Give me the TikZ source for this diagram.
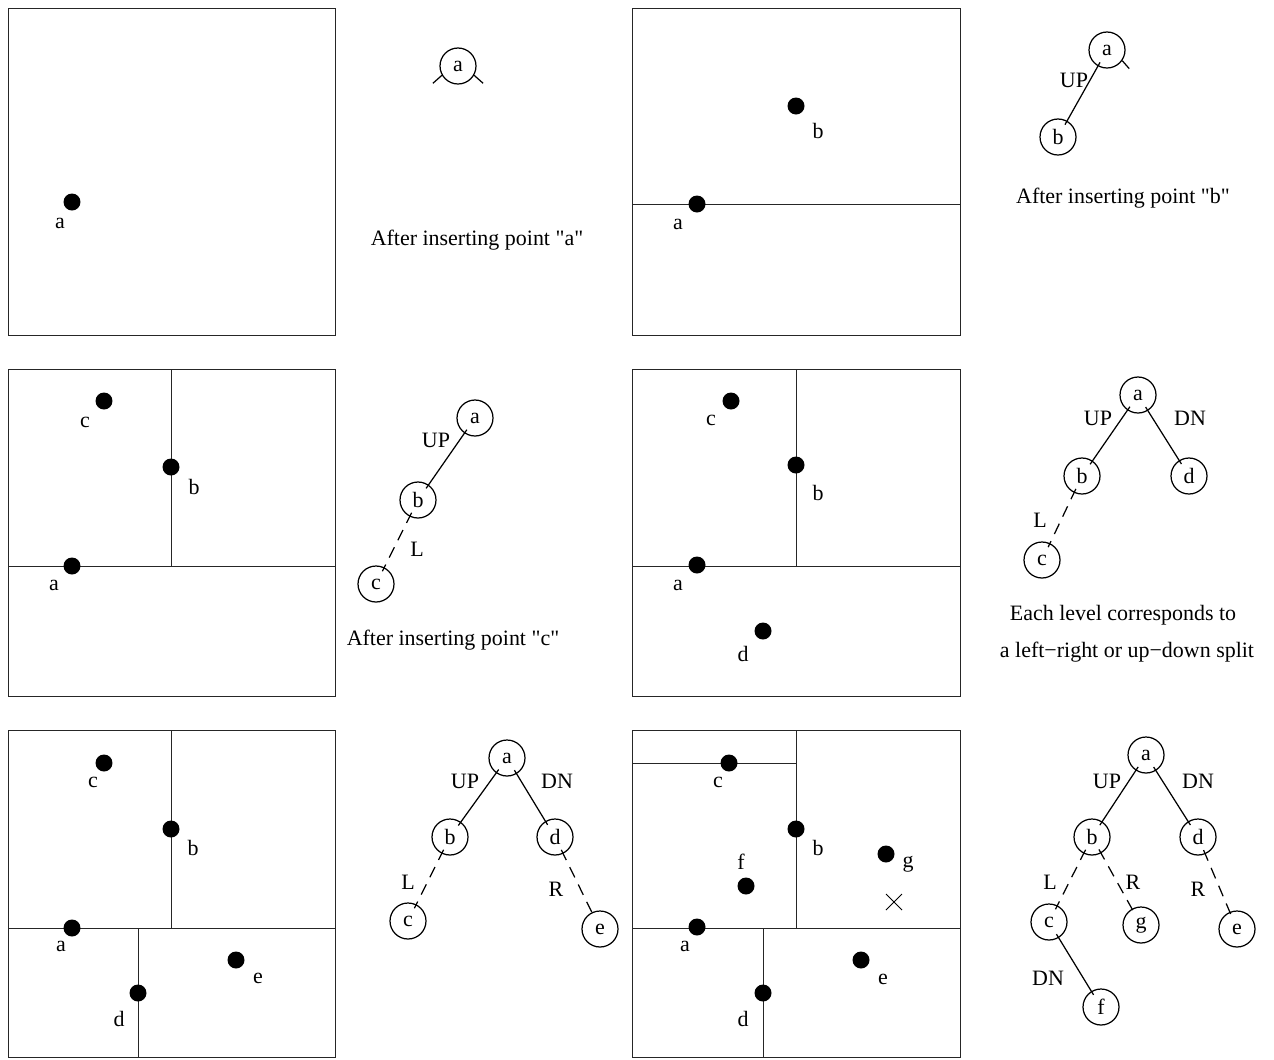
\documentclass[tikz,border=0pt]{standalone}
\usepackage{fontspec}
\setmainfont{Liberation Serif}[Ligatures=TeXOff]
\begin{document}
\begin{tikzpicture}[x=0.02cm,y=-0.02cm, line width=0.7pt,
 tn/.style={circle,draw,minimum size=0.72cm,inner sep=0pt,font=\fontsize{12.5}{13}\selectfont},
 pt/.style={circle,fill,minimum size=0.34cm,inner sep=0pt},
 lb/.style={inner sep=0pt,font=\fontsize{12.5}{13}\selectfont},
 box/.style={draw,line width=0.5pt,black!85},
 edge/.style={shorten <=-2.5pt,shorten >=-2.5pt},
 dedge/.style={edge,dash pattern=on 6.5pt off 4.5pt}]
\useasboundingbox (0,0) rectangle (1274,1059);

% ---------- Panel 1 ----------
\draw[box] (8,8) rectangle (335,335);
\node[pt] (p1a) at (72,202) {};
\node[lb] (p1al) at (60,223) {a};
\node[tn] (t1a) at (458,66) {a};
\draw (t1a.-150) -- ++(-9,8);
\draw (t1a.-30) -- ++(9,8);
\node[lb] (cap1) at (477,240) {After inserting point "a"};

% ---------- Panel 2 ----------
\draw[box] (632,8) rectangle (960,335);
\draw[box] (632,204) -- (960,204);
\node[pt] (p2a) at (697,204) {};
\node[lb] (p2al) at (678,224) {a};
\node[pt] (p2b) at (796,106) {};
\node[lb] (p2bl) at (818,131) {b};
\node[tn] (t2a) at (1107,50) {a};
\node[tn] (t2b) at (1058,137) {b};
\draw[edge] (t2a) -- (t2b);
\node[lb] (t2up) at (1074,80) {UP};
\draw (t2a.-35) -- ++(7,8);
\node[lb] (cap2) at (1123,198) {After inserting point "b"};

% ---------- Panel 3 ----------
\draw[box] (8,369) rectangle (335,696);
\draw[box] (171,369) -- (171,566);
\draw[box] (8,566) -- (335,566);
\node[pt] (p3c) at (104,401) {};
\node[lb] (p3cl) at (85,422) {c};
\node[pt] (p3b) at (171,467) {};
\node[lb] (p3bl) at (194,487) {b};
\node[pt] (p3a) at (72,566) {};
\node[lb] (p3al) at (54,585) {a};
\node[tn] (t3a) at (475,418) {a};
\node[tn] (t3b) at (418,500) {b};
\node[tn] (t3c) at (376,584) {c};
\draw[edge] (t3a) -- (t3b);
\draw[dedge] (t3b) -- (t3c);
\node[lb] (t3up) at (436,440) {UP};
\node[lb] (t3l) at (417,549) {L};
\node[lb] (cap3) at (453,640) {After inserting point "c"};

% ---------- Panel 4 ----------
\draw[box] (632,369) rectangle (960,696);
\draw[box] (796,369) -- (796,566);
\draw[box] (632,566) -- (960,566);
\node[pt] (p4c) at (731,401) {};
\node[lb] (p4cl) at (711,420) {c};
\node[pt] (p4b) at (796,465) {};
\node[lb] (p4bl) at (818,493) {b};
\node[pt] (p4a) at (697,565) {};
\node[lb] (p4al) at (678,585) {a};
\node[pt] (p4d) at (763,631) {};
\node[lb] (p4dl) at (743,654) {d};
\node[tn] (t4a) at (1138,395) {a};
\node[tn] (t4b) at (1082,476) {b};
\node[tn] (t4d) at (1189,476) {d};
\node[tn] (t4c) at (1042,560) {c};
\draw[edge] (t4a) -- (t4b);
\draw[edge] (t4a) -- (t4d);
\draw[dedge] (t4b) -- (t4c);
\node[lb] (t4up) at (1098,418) {UP};
\node[lb] (t4dn) at (1190,418) {DN};
\node[lb] (t4l) at (1040,520) {L};
\node[lb] (cap4a) at (1123,615) {Each level corresponds to};
\node[lb] (cap4b) at (1127,652) {a left−right or up−down split};

% ---------- Panel 5 ----------
\draw[box] (8,730) rectangle (335,1057);
\draw[box] (171,730) -- (171,928);
\draw[box] (8,928) -- (335,928);
\draw[box] (138,928) -- (138,1057);
\node[pt] (p5c) at (104,763) {};
\node[lb] (p5cl) at (93,782) {c};
\node[pt] (p5b) at (171,829) {};
\node[lb] (p5bl) at (193,848) {b};
\node[pt] (p5a) at (72,928) {};
\node[lb] (p5al) at (61,946) {a};
\node[pt] (p5d) at (138,993) {};
\node[lb] (p5dl) at (119,1019) {d};
\node[pt] (p5e) at (236,960) {};
\node[lb] (p5el) at (258,978) {e};
\node[tn] (t5a) at (507,758) {a};
\node[tn] (t5b) at (450,837) {b};
\node[tn] (t5d) at (555,837) {d};
\node[tn] (t5c) at (408,921) {c};
\node[tn] (t5e) at (600,929) {e};
\draw[edge] (t5a) -- (t5b);
\draw[edge] (t5a) -- (t5d);
\draw[dedge] (t5b) -- (t5c);
\draw[dedge] (t5d) -- (t5e);
\node[lb] (t5up) at (465,781) {UP};
\node[lb] (t5dn) at (557,781) {DN};
\node[lb] (t5l) at (408,882) {L};
\node[lb] (t5r) at (556,889) {R};

% ---------- Panel 6 ----------
\draw[box] (632,730) rectangle (960,1057);
\draw[box] (632,763) -- (796,763);
\draw[box] (796,730) -- (796,928);
\draw[box] (632,928) -- (960,928);
\draw[box] (763,928) -- (763,1057);
\node[pt] (p6c) at (729,763) {};
\node[lb] (p6cl) at (718,782) {c};
\node[pt] (p6b) at (796,829) {};
\node[lb] (p6bl) at (818,848) {b};
\node[pt] (p6f) at (746,886) {};
\node[lb] (p6fl) at (741,862) {f};
\node[pt] (p6g) at (886,854) {};
\node[lb] (p6gl) at (908,864) {g};
\node[pt] (p6a) at (697,927) {};
\node[lb] (p6al) at (685,946) {a};
\node[pt] (p6e) at (861,960) {};
\node[lb] (p6el) at (883,979) {e};
\node[pt] (p6d) at (763,993) {};
\node[lb] (p6dl) at (743,1019) {d};
\draw[line width=0.5pt] (886,894) -- (902,910);
\draw[line width=0.5pt] (886,910) -- (902,894);
\node[tn] (t6a) at (1146,755) {a};
\node[tn] (t6b) at (1092,837) {b};
\node[tn] (t6d) at (1198,837) {d};
\node[tn] (t6c) at (1049,922) {c};
\node[tn] (t6g) at (1141,925) {g};
\node[tn] (t6e) at (1237,929) {e};
\node[tn] (t6f) at (1101,1007) {f};
\draw[edge] (t6a) -- (t6b);
\draw[edge] (t6a) -- (t6d);
\draw[dedge] (t6b) -- (t6c);
\draw[dedge] (t6b) -- (t6g);
\draw[dedge] (t6d) -- (t6e);
\draw[edge] (t6c) -- (t6f);
\node[lb] (t6up) at (1107,781) {UP};
\node[lb] (t6dn) at (1198,781) {DN};
\node[lb] (t6l) at (1050,882) {L};
\node[lb] (t6r1) at (1133,882) {R};
\node[lb] (t6r2) at (1198,889) {R};
\node[lb] (t6dn2) at (1048,978) {DN};
\end{tikzpicture}
\end{document}
